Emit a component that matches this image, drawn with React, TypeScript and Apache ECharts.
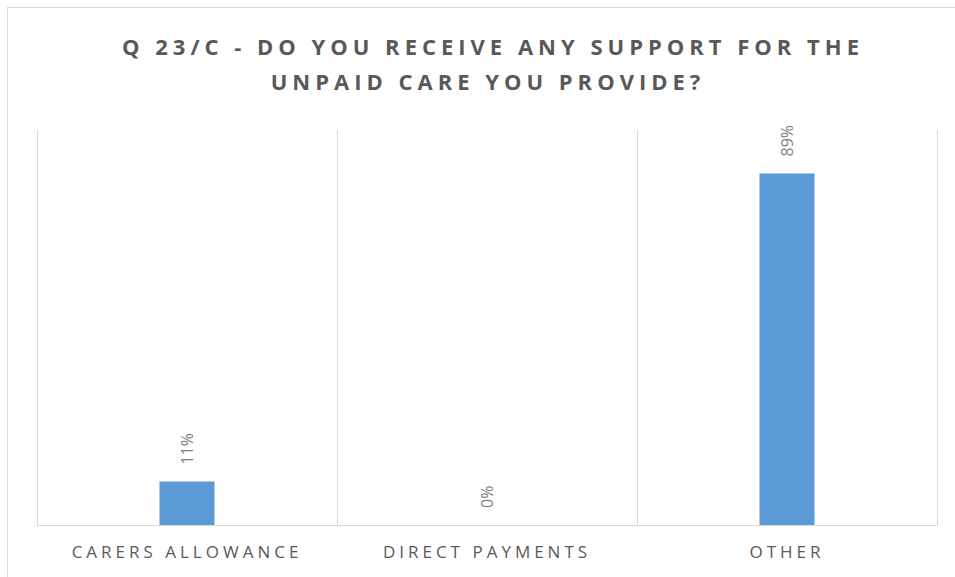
import React, { useEffect, useRef } from 'react';
import * as echarts from 'echarts';

const titleLines = ['Q 23/C - DO YOU RECEIVE ANY SUPPORT FOR THE', 'UNPAID CARE YOU PROVIDE?'];
const categories = ['CARERS ALLOWANCE', 'DIRECT PAYMENTS', 'OTHER'];
const values = [11, 0, 89];

export default function App() {
  const ref = useRef<HTMLDivElement>(null);
  useEffect(() => {
    const chart = echarts.init(ref.current!, null, { renderer: 'svg' });
    const titleX = [486, 481];
    chart.setOption({
      animation: false,
      graphic: [
        { type: 'line', shape: { x1: 0, y1: 0.5, x2: 948, y2: 0.5 }, style: { stroke: '#d9d9d9', lineWidth: 1 } },
        { type: 'line', shape: { x1: 0.5, y1: 0, x2: 0.5, y2: 570 }, style: { stroke: '#d9d9d9', lineWidth: 1 } },
        ...titleLines.map((t, i) => ({
          type: 'text',
          x: titleX[i],
          y: 39 + i * 35,
          style: {
            text: t,
            textAlign: 'center',
            textVerticalAlign: 'middle',
            font: 'bold 22px "Open Sans"',
            fill: '#595959',
          },
        })),
      ],
      grid: { left: 30, right: 18, top: 123, bottom: 52 },
      xAxis: {
        type: 'category',
        data: categories,
        axisLine: { lineStyle: { color: '#d9d9d9', width: 1 } },
        axisTick: { show: false },
        splitLine: { show: true, lineStyle: { color: '#d9d9d9', width: 1 } },
        axisLabel: { color: '#595959', fontSize: 17, fontFamily: 'Open Sans', margin: 18 },
      },
      yAxis: { type: 'value', min: 0, max: 100, show: false },
      series: [
        {
          type: 'bar',
          data: values,
          barWidth: 55,
          itemStyle: { color: '#5b9bd5' },
          label: {
            show: true,
            position: 'top',
            rotate: 90,
            align: 'left',
            verticalAlign: 'middle',
            distance: 17,
            formatter: '{c}%',
            color: '#7f7f7f',
            fontSize: 16,
            fontFamily: 'Open Sans',
          },
        },
      ],
    });
    return () => chart.dispose();
  }, []);
  return (
    <div>
      <style>{'#root text[style*="22px"]{letter-spacing:5px} #root text[style*="17px"]{letter-spacing:4px}'}</style>
      <div
        ref={ref}
        style={{ position: 'fixed', left: 7, top: 7, width: 948, height: 570, background: '#fff' }}
      />
    </div>
  );
}
